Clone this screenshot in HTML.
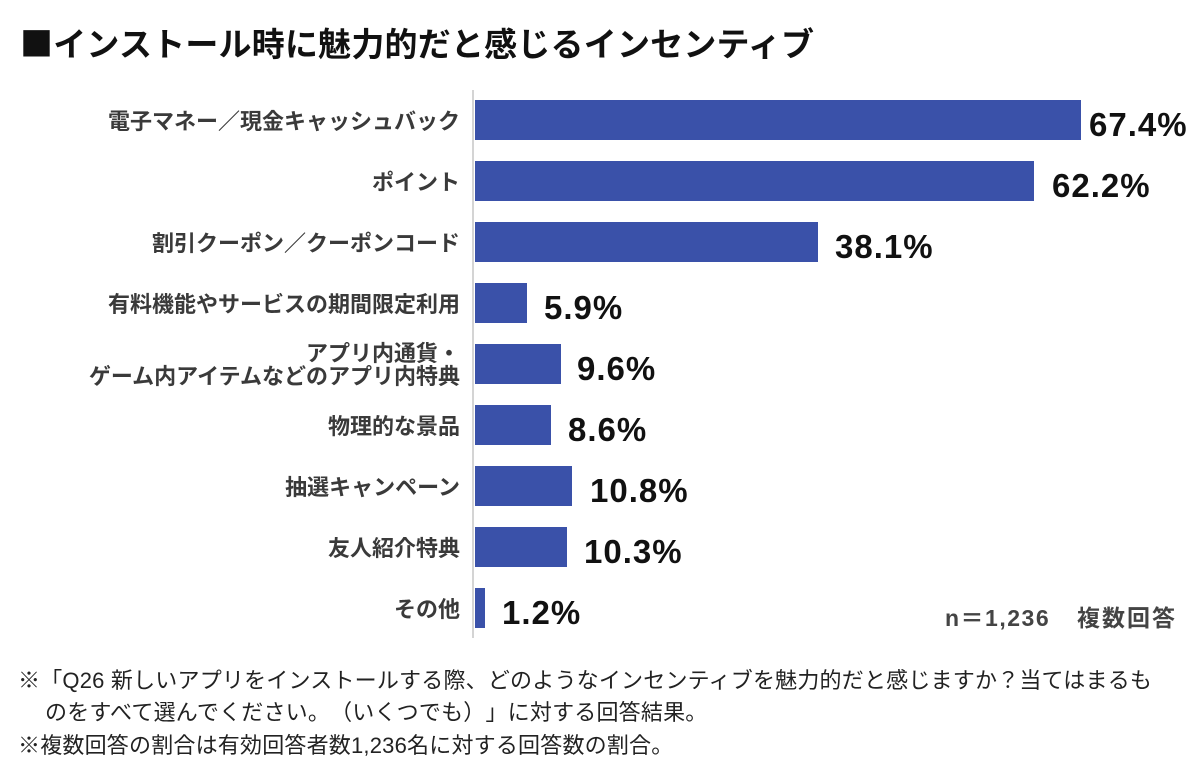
<!DOCTYPE html>
<html>
<head>
<meta charset="utf-8">
<style>
  html,body{margin:0;padding:0;background:#fff;}
  body{width:1200px;height:783px;position:relative;overflow:hidden;text-spacing-trim:space-all;}
  .t{position:absolute;white-space:nowrap;}
  .title{left:20px;top:22px;line-height:40px;font-size:33px;font-weight:bold;color:#111;letter-spacing:0.2px;
    font-family:"Noto Sans CJK JP","Liberation Sans",sans-serif;}
  .axis{position:absolute;left:472px;top:90px;width:2px;height:548px;background:#d4d4d4;}
  .bar{position:absolute;left:475px;height:40px;background:#3a51a9;}
  .lab{position:absolute;right:740px;height:40px;display:flex;align-items:center;justify-content:flex-end;
    text-align:right;font-size:22px;font-weight:bold;color:#3a3a3a;line-height:23px;white-space:nowrap;
    font-family:"Noto Sans CJK JP","Liberation Sans",sans-serif;}
  .val{position:absolute;height:40px;line-height:40px;font-size:33px;font-weight:bold;color:#111;
    letter-spacing:1px;transform:translateY(5px);white-space:nowrap;
    font-family:"Liberation Sans","Noto Sans CJK JP",sans-serif;}
  .n{font-size:23px;font-weight:bold;color:#444;line-height:24px;top:606px;
    font-family:"Liberation Sans","Noto Sans CJK JP",sans-serif;}
  .fn{font-size:22px;color:#222;line-height:32px;letter-spacing:0.2px;
    font-family:"Liberation Sans","Noto Sans CJK JP",sans-serif;}
</style>
</head>
<body>
<div class="t title">■インストール時に魅力的だと感じるインセンティブ</div>

<div class="axis"></div>

<!-- bars -->
<div class="bar" style="top:100px;width:606px;"></div>
<div class="bar" style="top:161px;width:559px;"></div>
<div class="bar" style="top:222px;width:343px;"></div>
<div class="bar" style="top:283px;width:52px;"></div>
<div class="bar" style="top:344px;width:86px;"></div>
<div class="bar" style="top:405px;width:76px;"></div>
<div class="bar" style="top:466px;width:97px;"></div>
<div class="bar" style="top:527px;width:92px;"></div>
<div class="bar" style="top:588px;width:10px;"></div>

<!-- category labels -->
<div class="lab" style="top:100px;">電子マネー／現金キャッシュバック</div>
<div class="lab" style="top:161px;">ポイント</div>
<div class="lab" style="top:222px;">割引クーポン／クーポンコード</div>
<div class="lab" style="top:283px;">有料機能やサービスの期間限定利用</div>
<div class="lab" style="top:344px;">アプリ内通貨・<br>ゲーム内アイテムなどのアプリ内特典</div>
<div class="lab" style="top:405px;">物理的な景品</div>
<div class="lab" style="top:466px;">抽選キャンペーン</div>
<div class="lab" style="top:527px;">友人紹介特典</div>
<div class="lab" style="top:588px;">その他</div>

<!-- values -->
<div class="val" style="top:100px;left:1089px;">67.4%</div>
<div class="val" style="top:161px;left:1052px;">62.2%</div>
<div class="val" style="top:222px;left:835px;">38.1%</div>
<div class="val" style="top:283px;left:544px;">5.9%</div>
<div class="val" style="top:344px;left:577px;">9.6%</div>
<div class="val" style="top:405px;left:568px;">8.6%</div>
<div class="val" style="top:466px;left:590px;">10.8%</div>
<div class="val" style="top:527px;left:584px;">10.3%</div>
<div class="val" style="top:588px;left:502px;">1.2%</div>

<div class="t n" style="left:945px;letter-spacing:1.5px;">n＝1,236</div>
<div class="t n" style="left:1077px;letter-spacing:2px;">複数回答</div>

<!-- footnotes -->
<div class="t fn" style="left:18px;top:665px;">※「Q26 新しいアプリをインストールする際、どのようなインセンティブを魅力的だと感じますか？当てはまるも</div>
<div class="t fn" style="left:45px;top:697px;">のをすべて選んでください。（いくつでも）」に対する回答結果。</div>
<div class="t fn" style="left:18px;top:730px;">※複数回答の割合は有効回答者数1,236名に対する回答数の割合。</div>
</body>
</html>
